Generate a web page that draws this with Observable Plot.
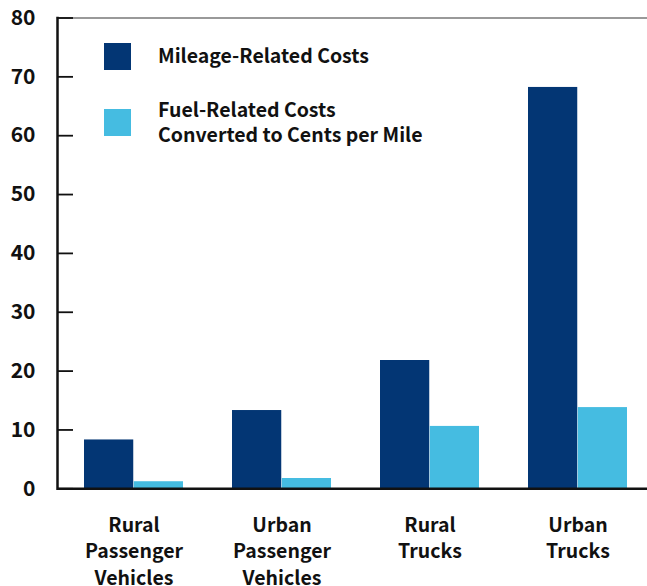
<!DOCTYPE html>
<html><head><meta charset="utf-8">
<script src="https://cdn.jsdelivr.net/npm/d3@7"></script>
<script src="https://cdn.jsdelivr.net/npm/@observablehq/plot@0.6"></script>
<style>
body{margin:0;background:#fff;}
#wrap{position:relative;width:647px;height:586px;}
#legend{position:absolute;left:0;top:0;}
</style></head><body><div id="wrap"></div>
<script>
const categories = ["Rural Passenger Vehicles", "Urban Passenger Vehicles", "Rural Trucks", "Urban Trucks"];
const categoryLabels = ["Rural\nPassenger\nVehicles", "Urban\nPassenger\nVehicles", "Rural\nTrucks", "Urban\nTrucks"];
const seriesNames = ["Mileage-Related Costs", "Fuel-Related Costs\nConverted to Cents per Mile"];
const seriesColors = ["#033674", "#45BCE1"];
const mileageCosts = [8.3, 13.3, 21.8, 68.2];
const fuelCosts = [1.2, 1.75, 10.6, 13.8];
const yTicks = [0, 10, 20, 30, 40, 50, 60, 70, 80];

const font = '"Noto Sans CJK KR", "Noto Sans", sans-serif';
const mileageData = categories.map((c, i) => ({category: c, value: mileageCosts[i]}));
const fuelData = categories.map((c, i) => ({category: c, value: fuelCosts[i]}));
const labelOf = new Map(categories.map((c, i) => [c, categoryLabels[i]]));

const half = 49.75;
const chart = Plot.plot({
  width: 647, height: 586,
  marginTop: 17.5, marginBottom: 97.7, marginLeft: 57, marginRight: 0,
  style: {fontFamily: font, fontWeight: 700, fontSize: "21px", color: "#111", background: "#fff"},
  x: {domain: categories, paddingInner: 0.332, paddingOuter: 0.146, align: 0.575, label: null},
  y: {domain: [0, 80], label: null},
  marks: [
    Plot.frame({anchor: "top", stroke: "#777", strokeWidth: 1.5}),
    Plot.barY(mileageData, {x: "category", y: "value", fill: seriesColors[0], insetRight: half, insetLeft: 0}),
    Plot.barY(fuelData, {x: "category", y: "value", fill: seriesColors[1], insetLeft: half, insetRight: 0}),
    Plot.axisY({ticks: yTicks, tickSize: 0, tickPadding: 22, label: null, fontSize: 21, fill: "#111"}),
    Plot.axisY({ticks: yTicks, tickSize: -16, text: null, label: null, stroke: "#111", strokeWidth: 1.8}),
    Plot.frame({anchor: "left", stroke: "#111", strokeWidth: 2.5}),
    Plot.ruleY([0], {stroke: "#111", strokeWidth: 2.5}),
    Plot.axisX({tickSize: 0, tickPadding: 24, tickFormat: d => labelOf.get(d), lineHeight: 1.36, label: null, fontSize: 19.5, fill: "#111"})
  ]
});
const wrap = document.getElementById("wrap");
wrap.appendChild(chart);

// Legend overlay
const lg = d3.select(wrap).append("svg").attr("id", "legend")
  .attr("width", 647).attr("height", 160)
  .style("font-family", font).style("font-weight", 700).style("font-size", "19.5px");
const items = [
  {name: seriesNames[0], color: seriesColors[0], sq: 43, base: 63},
  {name: seriesNames[1], color: seriesColors[1], sq: 109, base: 117}
];
items.forEach(it => {
  lg.append("rect").attr("x", 104).attr("y", it.sq).attr("width", 27).attr("height", 27).attr("fill", it.color);
  const t = lg.append("text").attr("x", 158).attr("y", it.base).attr("fill", "#111");
  it.name.split("\n").forEach((line, j) => {
    t.append("tspan").attr("x", 158).attr("y", it.base + j * 24.7).text(line);
  });
});
</script>
</body></html>
